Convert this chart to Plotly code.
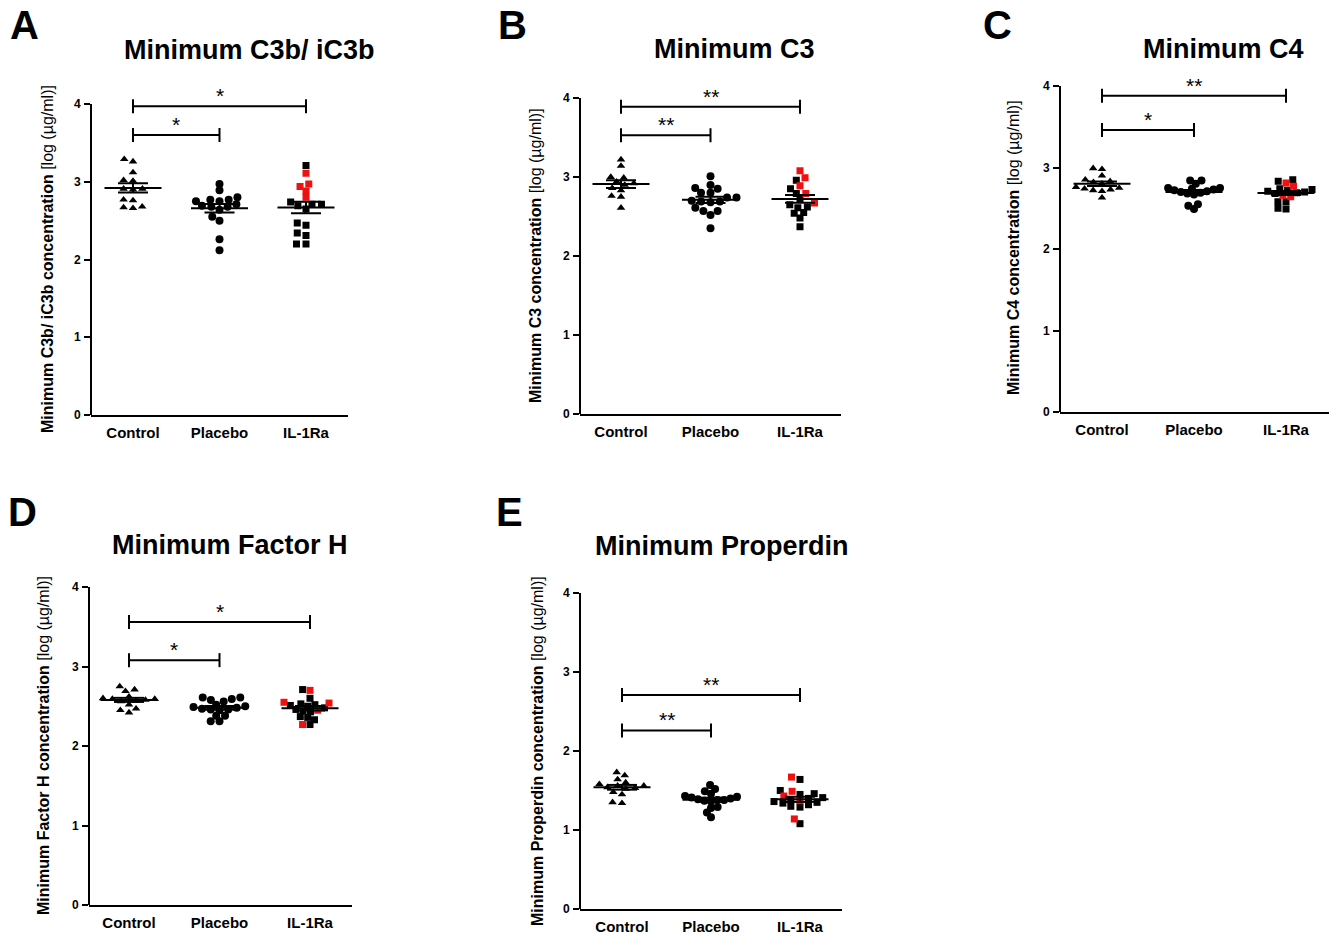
import math
import numpy as np
import plotly.graph_objects as go

W, H = 1331, 934
FONT = "Arial, 'Liberation Sans', Helvetica, sans-serif"

categories = ["Control", "Placebo", "IL-1Ra"]

# ---------------- data (log µg/ml) ----------------
A_control = [3.29, 3.26, 3.12, 3.02, 3.01, 2.91, 2.91, 2.90, 2.77, 2.76, 2.68, 2.66, 2.67]
A_placebo = [2.97, 2.89, 2.80, 2.77, 2.77, 2.75, 2.75, 2.71, 2.69, 2.68, 2.68, 2.64, 2.55, 2.50, 2.26, 2.12]
A_il_black = [3.21, 2.74, 2.71, 2.71, 2.69, 2.65, 2.47, 2.44, 2.34, 2.31, 2.20, 2.20]
A_il_red = [3.11, 2.97, 2.94, 2.88, 2.80]

B_control = [3.22, 3.14, 3.00, 2.99, 2.94, 2.92, 2.90, 2.86, 2.83, 2.76, 2.75, 2.61]
B_placebo = [3.01, 2.90, 2.86, 2.85, 2.80, 2.80, 2.74, 2.74, 2.70, 2.69, 2.69, 2.68, 2.61, 2.57, 2.57, 2.52, 2.35]
B_il_black = [2.96, 2.85, 2.79, 2.72, 2.65, 2.62, 2.61, 2.55, 2.54, 2.48, 2.37]
B_il_red = [3.08, 2.99, 2.89, 2.79, 2.67]

C_control = [2.99, 2.98, 2.90, 2.85, 2.83, 2.82, 2.80, 2.76, 2.75, 2.74, 2.73, 2.72, 2.71, 2.63]
C_placebo = [2.84, 2.84, 2.80, 2.75, 2.75, 2.74, 2.73, 2.72, 2.71, 2.70, 2.69, 2.68, 2.67, 2.55, 2.53, 2.49]
C_il_black = [2.85, 2.83, 2.74, 2.73, 2.72, 2.71, 2.70, 2.69, 2.68, 2.58, 2.58, 2.50, 2.49]
C_il_red = [2.81, 2.77, 2.66, 2.64]

D_control = [2.75, 2.71, 2.69, 2.62, 2.60, 2.59, 2.59, 2.58, 2.57, 2.56, 2.52, 2.47, 2.45, 2.42]
D_placebo = [2.61, 2.61, 2.59, 2.58, 2.56, 2.52, 2.50, 2.49, 2.48, 2.47, 2.46, 2.46, 2.45, 2.38, 2.38, 2.31, 2.31]
D_il_black = [2.71, 2.60, 2.53, 2.52, 2.51, 2.50, 2.48, 2.46, 2.44, 2.43, 2.37, 2.36, 2.33, 2.27]
D_il_red = [2.70, 2.55, 2.54, 2.45, 2.27]

E_control = [1.73, 1.69, 1.64, 1.60, 1.58, 1.56, 1.56, 1.54, 1.53, 1.52, 1.48, 1.45, 1.35, 1.34]
E_placebo = [1.57, 1.52, 1.49, 1.46, 1.43, 1.42, 1.41, 1.40, 1.39, 1.38, 1.38, 1.37, 1.36, 1.29, 1.28, 1.22, 1.16]
E_il_black = [1.64, 1.50, 1.46, 1.45, 1.41, 1.40, 1.38, 1.36, 1.35, 1.34, 1.32, 1.30, 1.29, 1.08]
E_il_red = [1.67, 1.49, 1.43, 1.37, 1.14]

# significance brackets: (Control vs Placebo level, Control vs IL-1Ra level)
A_brackets = [3.60, 3.97]
B_brackets = [3.53, 3.89]
C_brackets = [3.46, 3.88]
D_brackets = [3.08, 3.56]
E_brackets = [2.26, 2.71]
A_stars = ["*", "*"]
B_stars = ["**", "**"]
C_stars = ["*", "**"]
D_stars = ["*", "*"]
E_stars = ["**", "**"]

titles = ["Minimum C3b/ iC3b", "Minimum C3", "Minimum C4", "Minimum Factor H", "Minimum Properdin"]
ytitles = ["Minimum C3b/ iC3b concentration", "Minimum C3 concentration", "Minimum C4 concentration",
           "Minimum Factor H concentration", "Minimum Properdin concentration"]
yunit = " [log (µg/ml)]"
letters = ["A", "B", "C", "D", "E"]
yticks = [0, 1, 2, 3, 4]

# ---------------- layout geometry (pixels) ----------------
geo = [
    dict(xl=91, xr=348, c0=133, c2=306, y0=415, y4=104, title=(249, 50), letter=(24, 25), ytit=(47, 259)),
    dict(xl=580, xr=841, c0=621, c2=800, y0=414, y4=98, title=(734, 49), letter=(512, 25), ytit=(535, 256)),
    dict(xl=1060, xr=1329, c0=1102, c2=1286, y0=412, y4=86, title=(1223, 49), letter=(997, 25), ytit=(1013, 248)),
    dict(xl=89, xr=352, c0=129, c2=310, y0=905, y4=587, title=(230, 545), letter=(22, 512), ytit=(43, 746)),
    dict(xl=580, xr=842, c0=622, c2=800, y0=909, y4=593, title=(722, 546), letter=(509, 512), ytit=(537, 751)),
]

panels = [
    (A_control, A_placebo, A_il_black, A_il_red, A_brackets, A_stars),
    (B_control, B_placebo, B_il_black, B_il_red, B_brackets, B_stars),
    (C_control, C_placebo, C_il_black, C_il_red, C_brackets, C_stars),
    (D_control, D_placebo, D_il_black, D_il_red, D_brackets, D_stars),
    (E_control, E_placebo, E_il_black, E_il_red, E_brackets, E_stars),
]

YMAX = 4.2
DX_PX = 9.5   # horizontal spacing of the swarm
DY_PX = 6.0   # vertical overlap tolerance
MAX_HALF = 26.0  # swarm is compressed to fit this half-width (px)


def swarm(vals, ppu):
    order = sorted(range(len(vals)), key=lambda i: vals[i])
    placed = []
    xs = [0.0] * len(vals)

    def ok(c, y):
        return all(((c - px) / DX_PX) ** 2 + ((y - py) / DY_PX) ** 2 >= 1 - 1e-6 for px, py in placed)

    for i in order:
        y = vals[i] * ppu
        cands = [0.0]
        for px, py in placed:
            dy = abs(py - y)
            if dy < DY_PX:
                dx = DX_PX * math.sqrt(1 - (dy / DY_PX) ** 2)
                cands += [px + dx, px - dx]
        cands.sort(key=lambda c: (round(abs(c), 6), c))
        for c in cands:
            if ok(c, y):
                xs[i] = c
                break
        placed.append((xs[i], y))
    m = max(abs(v) for v in xs)
    if m > MAX_HALF:
        xs = [v * MAX_HALF / m for v in xs]
    return xs


fig = go.Figure()
layout = dict(width=W, height=H, margin=dict(l=0, r=0, t=0, b=0, autoexpand=False), paper_bgcolor="white",
              plot_bgcolor="white", showlegend=False, font=dict(family=FONT, color="black"))
annotations = []
shapes = []

for k, (g, (ctrl, plac, ilb, ilr, brk, stars)) in enumerate(zip(geo, panels)):
    n = k + 1
    sx = "" if n == 1 else str(n)
    xa, ya = "x" + sx, "y" + sx
    sp = (g["c2"] - g["c0"]) / 2.0
    ppu = (g["y0"] - g["y4"]) / 4.0
    lo = (g["xl"] - g["c0"]) / sp
    hi = (g["xr"] - g["c0"]) / sp
    ytop = g["y0"] - YMAX * ppu

    layout["xaxis" + sx] = dict(domain=[g["xl"] / W, g["xr"] / W], range=[lo, hi], anchor=ya,
                                automargin=False,
                                showline=True, linewidth=2, linecolor="black", ticks="",
                                tickvals=[0, 1, 2], ticktext=categories, showgrid=False, zeroline=False,
                                tickfont=dict(size=15, weight="bold", family=FONT), ticklabelstandoff=3)
    layout["yaxis" + sx] = dict(domain=[1 - g["y0"] / H, 1 - ytop / H], range=[0, YMAX], anchor=xa,
                                automargin=False,
                                showline=False, ticks="outside", ticklen=6, tickwidth=1.5, tickcolor="black",
                                tickvals=yticks, showgrid=False, zeroline=False,
                                tickfont=dict(size=12, weight="bold", family=FONT), ticklabelstandoff=1)
    # y axis line from 0 to 4
    shapes.append(dict(type="line", xref=xa + " domain", yref=ya + " domain", x0=0, x1=0,
                       y0=0, y1=4 / YMAX, line=dict(color="black", width=2)))

    groups = [
        (ctrl, ["black"] * len(ctrl), "triangle-up", 7.5, 0),
        (plac, ["black"] * len(plac), "circle", 8, 1),
        (ilb + ilr, ["black"] * len(ilb) + ["#f01010"] * len(ilr), "square", 7, 2),
    ]
    for vals, cols, sym, size, cx in groups:
        offs = swarm(vals, ppu)
        xs = [cx + o / sp for o in offs]
        fig.add_trace(go.Scatter(x=xs, y=vals, mode="markers", xaxis=xa, yaxis=ya,
                                 marker=dict(symbol=sym, size=size, color=cols, line=dict(width=0)),
                                 hoverinfo="y"))
    # mean and SEM
    mx, my = [], []
    hw, cw = 28.5 / sp, 15 / sp
    for vals, _, _, _, cx in groups:
        arr = np.array(vals)
        m = arr.mean()
        se = arr.std(ddof=1) / math.sqrt(len(arr))
        mx += [cx - hw, cx + hw, None, cx - cw, cx + cw, None, cx - cw, cx + cw, None, cx, cx, None]
        my += [m, m, None, m + se, m + se, None, m - se, m - se, None, m - se, m + se, None]
    fig.add_trace(go.Scatter(x=mx, y=my, mode="lines", xaxis=xa, yaxis=ya,
                             line=dict(color="black", width=2), hoverinfo="skip"))
    # significance brackets
    t = 7 / ppu
    bx, by = [], []
    for level, x1, st in zip(brk, [1, 2], stars):
        bx += [0, 0, None, 0, x1, None, x1, x1, None]
        by += [level - t, level + t, None, level, level, None, level - t, level + t, None]
        annotations.append(dict(xref=xa, yref=ya, x=x1 / 2, y=level, text=st, showarrow=False,
                                yanchor="bottom", yshift=-3, font=dict(size=21, family=FONT)))
    fig.add_trace(go.Scatter(x=bx, y=by, mode="lines", xaxis=xa, yaxis=ya,
                             line=dict(color="black", width=2), hoverinfo="skip"))

    # titles, letters, y-axis titles
    annotations.append(dict(xref="paper", yref="paper", x=g["title"][0] / W, y=1 - g["title"][1] / H,
                            text="<b>" + titles[k] + "</b>", showarrow=False, xanchor="center",
                            yanchor="middle", font=dict(size=27, family=FONT)))
    annotations.append(dict(xref="paper", yref="paper", x=g["letter"][0] / W, y=1 - g["letter"][1] / H,
                            text="<b>" + letters[k] + "</b>", showarrow=False, xanchor="center",
                            yanchor="middle", font=dict(size=40, family=FONT)))
    annotations.append(dict(xref="paper", yref="paper", x=g["ytit"][0] / W, y=1 - g["ytit"][1] / H,
                            text="<b>" + ytitles[k] + "</b>" + yunit, showarrow=False, textangle=-90,
                            xanchor="center", yanchor="middle", font=dict(size=16, family=FONT)))

layout["annotations"] = annotations
layout["shapes"] = shapes
fig.update_layout(**layout)
fig.write_html("out.html", config={"displayModeBar": False},
               post_script="document.body.style.margin='0';document.body.style.overflow='hidden';")
